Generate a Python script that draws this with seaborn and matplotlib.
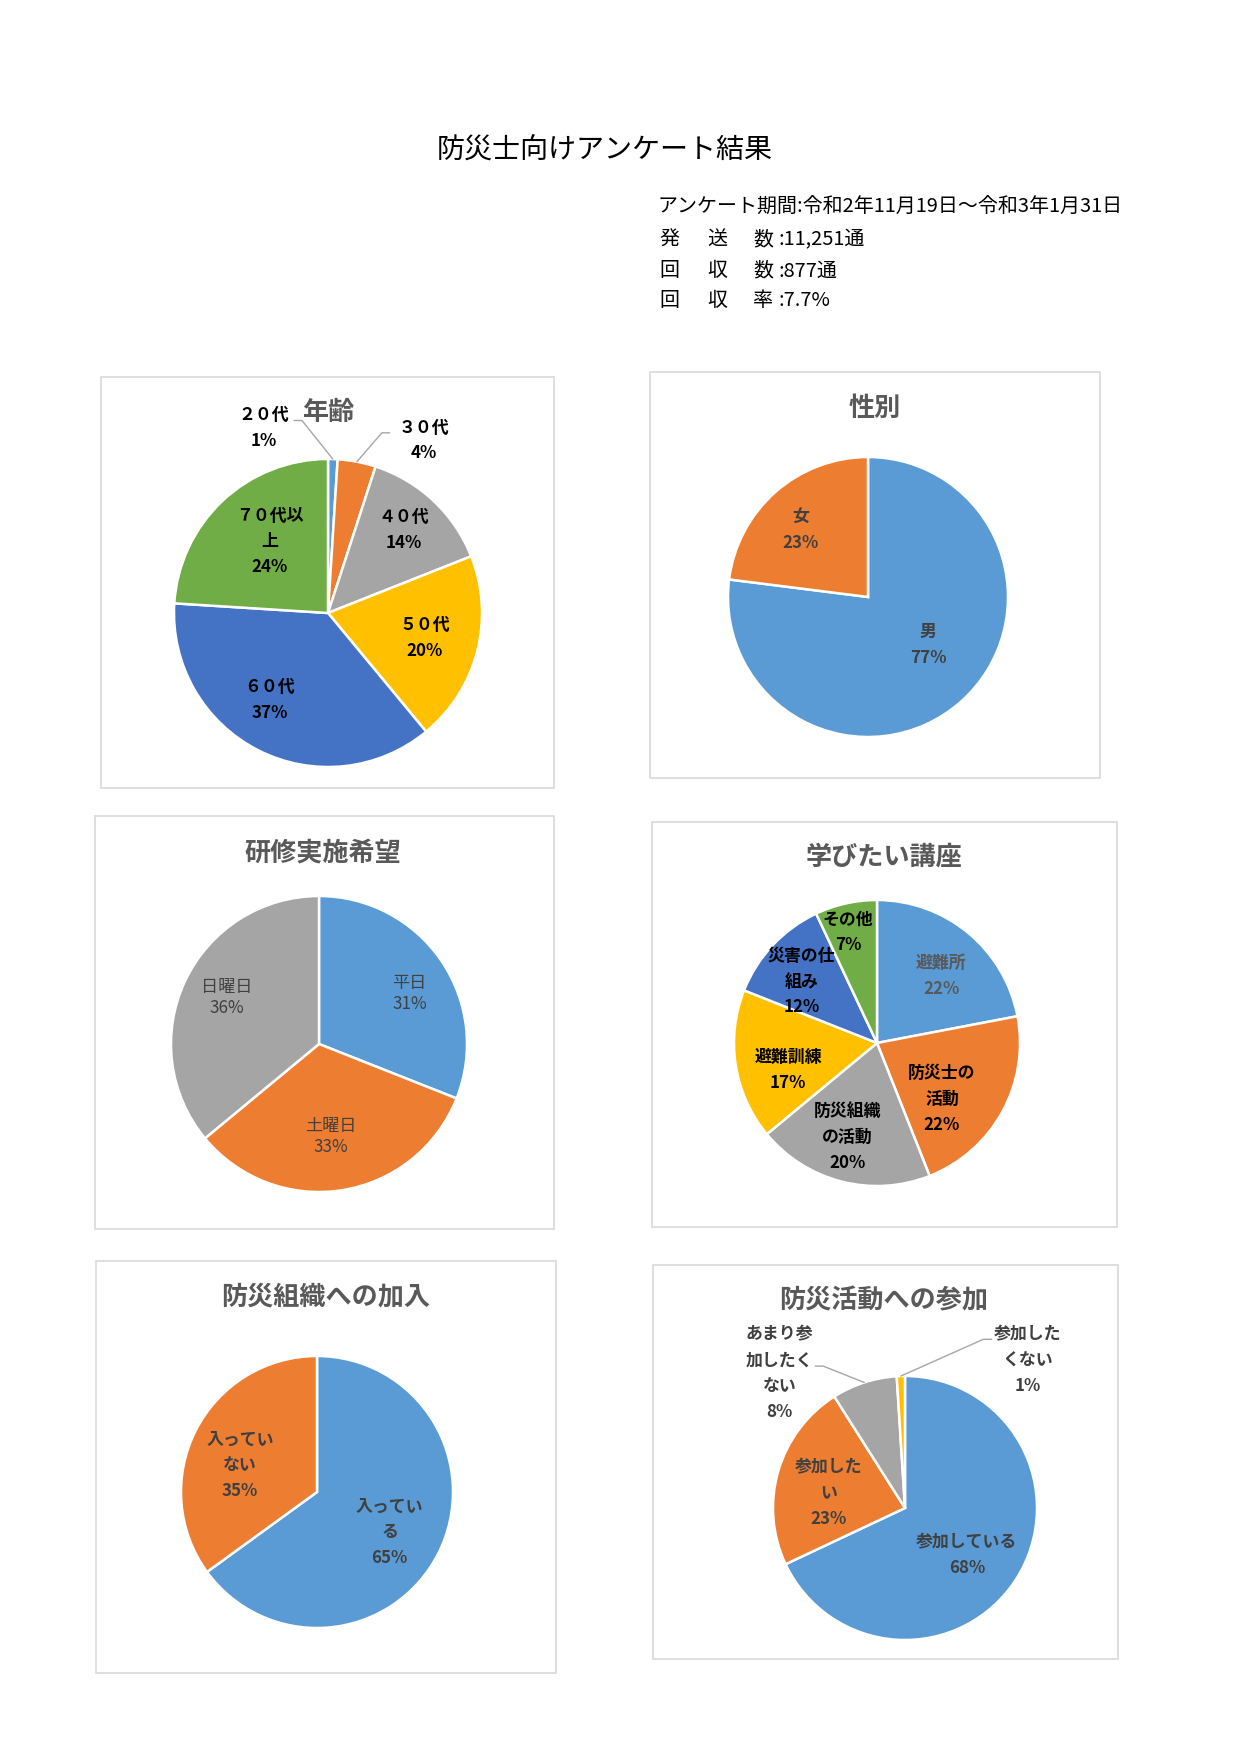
import numpy as np
import matplotlib
matplotlib.use("Agg")
import matplotlib.pyplot as plt
from matplotlib.patches import Rectangle
import seaborn as sns

sns.set_theme(style="white")
plt.rcParams['font.family'] = ['Noto Sans CJK JP', 'DejaVu Sans']

# ---------------- data ----------------
main_title = "防災士向けアンケート結果"
period_text = "アンケート期間:令和2年11月19日～令和3年1月31日"
info_keys = [["発", "送", "数"], ["回", "収", "数"], ["回", "収", "率"]]
info_vals = [":11,251通", ":877通", ":7.7%"]

age_title = "年齢"
age_labels = ["２０代", "３０代", "４０代", "５０代", "６０代", "７０代以\n上"]
age_values = [1, 4, 14, 20, 37, 24]

sex_title = "性別"
sex_labels = ["男", "女"]
sex_values = [77, 23]

training_title = "研修実施希望"
training_labels = ["平日", "土曜日", "日曜日"]
training_values = [31, 33, 36]

course_title = "学びたい講座"
course_labels = ["避難所", "防災士の\n活動", "防災組織\nの活動", "避難訓練", "災害の仕\n組み", "その他"]
course_values = [22, 22, 20, 17, 12, 7]

org_title = "防災組織への加入"
org_labels = ["入ってい\nる", "入ってい\nない"]
org_values = [65, 35]

act_title = "防災活動への参加"
act_labels = ["参加している", "参加した\nい", "あまり参\n加したく\nない", "参加した\nくない"]
act_values = [68, 23, 8, 1]

excel = sns.color_palette(["#5B9BD5", "#ED7D31", "#A5A5A5", "#FFC000", "#4472C4", "#70AD47"])

# ---------------- figure ----------------
W, H = 1240, 1754
fig = plt.figure(figsize=(W / 100, H / 100), dpi=100)
fig.patch.set_facecolor("white")


def fx(x):
    return x / W


def fy(y):
    return 1 - y / H


fig.text(fx(605), fy(151), main_title, ha="center", va="center", fontsize=20.2, color="black")
fig.text(fx(658), fy(207), period_text, ha="left", va="center", fontsize=14.4, color="black")
for i, (keys, val) in enumerate(zip(info_keys, info_vals)):
    yy = [240, 271, 301][i]
    for k, xx in zip(keys, [669, 717, 763]):
        fig.text(fx(xx), fy(yy), k, ha="center", va="center", fontsize=14.4, color="black")
    fig.text(fx(779), fy(yy), val, ha="left", va="center", fontsize=14.4, color="black")


def panel(box, title, title_xy, center, radius, labels, values, rf, dth,
          txtcolor, weight="bold", fs=12.2, ls=1.55, outside=None):
    x0, y0, x1, y1 = box
    fig.patches.append(Rectangle((fx(x0), fy(y1)), (x1 - x0) / W, (y1 - y0) / H,
                                 transform=fig.transFigure, fill=False,
                                 edgecolor="#D9D9D9", lw=1.2))
    fig.text(fx(title_xy[0]), fy(title_xy[1]), title, ha="center", va="center",
             fontsize=18.8, color="#595959", fontweight="bold")
    cx, cy = center
    ax = fig.add_axes([fx(cx - radius), fy(cy + radius), 2 * radius / W, 2 * radius / H])
    ax.pie(values, colors=excel[:len(values)], startangle=90, counterclock=False,
           radius=1, wedgeprops=dict(edgecolor="white", linewidth=1.8))
    ax.set_xlim(-1, 1)
    ax.set_ylim(-1, 1)
    ax.set_aspect("equal")
    ax.axis("off")
    total = float(sum(values))
    cum = np.cumsum([0] + list(values))
    outside = outside or {}
    for i, (lab, v) in enumerate(zip(labels, values)):
        mid = (cum[i] + v / 2) / total * 360.0
        pct = f"{round(v / total * 100)}%"
        col = txtcolor[i] if isinstance(txtcolor, list) else txtcolor
        if i in outside:
            lx, ly, sx, sy, ex, ey = outside[i]
            ax.text(lx, ly, lab + "\n" + pct, ha="center", va="center", fontsize=fs,
                    color=col, fontweight=weight, linespacing=ls, clip_on=False)
            th = np.deg2rad(mid)
            ax.plot([sx, ex, np.sin(th)], [sy, ey, np.cos(th)], color="#A6A6A6",
                    lw=1.0, clip_on=False)
        else:
            th = np.deg2rad(mid + dth[i])
            ax.text(rf[i] * np.sin(th), rf[i] * np.cos(th), lab + "\n" + pct,
                    ha="center", va="center", fontsize=fs, color=col,
                    fontweight=weight, linespacing=ls, clip_on=False)
    return ax


panel((101, 377, 554, 788), age_title, (328, 412), (328, 613), 154,
      age_labels, age_values,
      rf=[0, 0, 0.73, 0.65, 0.68, 0.60], dth=[0, 0, -1, 0, 7, 4],
      txtcolor="black",
      outside={0: (-0.42, 1.20, -0.221, 1.25, -0.169, 1.25),
               1: (0.62, 1.12, 0.40, 1.17, 0.35, 1.17)})

panel((650, 372, 1100, 778), sex_title, (875, 408), (868, 597), 140,
      sex_labels, sex_values, rf=[0.55, 0.68], dth=[-10, -4], txtcolor="#404040")

panel((95, 816, 554, 1229), training_title, (323, 853), (319, 1044), 148,
      training_labels, training_values, rf=[0.70, 0.63, 0.70], dth=[5, 2, 1.6],
      txtcolor="#404040", weight="normal", fs=12.3, ls=1.2)

panel((652, 822, 1117, 1227), course_title, (884, 857), (877, 1043), 143,
      course_labels, course_values,
      rf=[0.65, 0.60, 0.69, 0.65, 0.68, 0.80], dth=[4, 12, 3, -8, -4, -2],
      txtcolor=["#595959", "black", "black", "black", "black", "black"])

panel((96, 1261, 556, 1673), org_title, (326, 1297), (317, 1492), 136,
      org_labels, org_values, rf=[0.61, 0.60], dth=[2, -8], txtcolor="#404040")

panel((653, 1265, 1118, 1659), act_title, (884, 1301), (905, 1508), 132,
      act_labels, act_values, rf=[0.59, 0.59, 0, 0], dth=[5, -5, 0, 0],
      txtcolor="#404040",
      outside={2: (-0.95, 1.02, -0.68, 1.075, -0.62, 1.075),
               3: (0.93, 1.12, 0.657, 1.278, 0.593, 1.278)})

fig.savefig("out.png", dpi=100, facecolor="white")
